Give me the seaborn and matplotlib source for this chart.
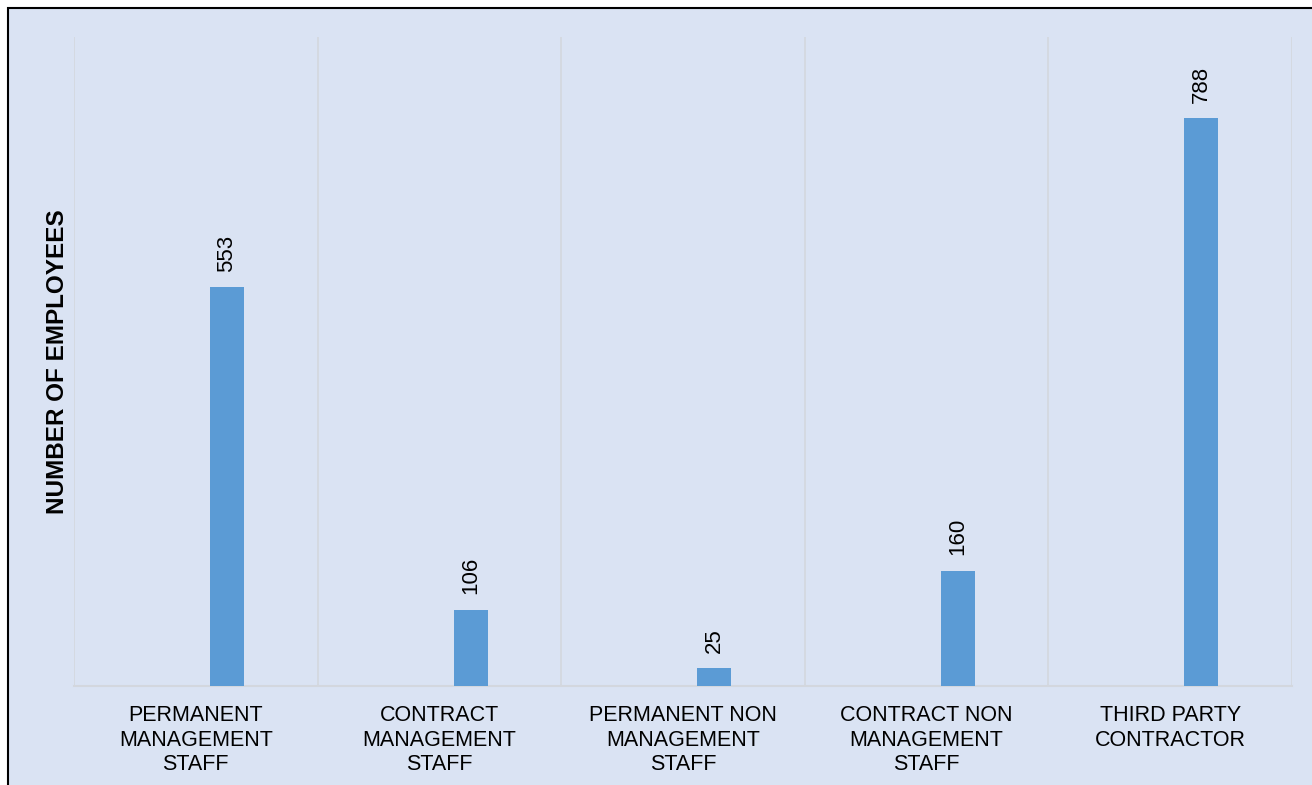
import matplotlib
matplotlib.use("Agg")
import matplotlib.pyplot as plt
import matplotlib.patches as mpatches
from matplotlib.ticker import FixedLocator
import seaborn as sns
import pandas as pd

categories = ["PERMANENT\nMANAGEMENT\nSTAFF", "CONTRACT\nMANAGEMENT\nSTAFF",
              "PERMANENT NON\nMANAGEMENT\nSTAFF", "CONTRACT NON\nMANAGEMENT\nSTAFF",
              "THIRD PARTY\nCONTRACTOR"]
values = [553, 106, 25, 160, 788]
y_label = "NUMBER OF EMPLOYEES"

df = pd.DataFrame({"category": categories, "value": values})

sns.set_theme(style="white")
plt.rcParams["font.family"] = ["Liberation Sans", "DejaVu Sans"]

BG = "#DAE3F3"
BAR = "#5B9BD5"
GRID = "#D3D7DE"

fig = plt.figure(figsize=(13.12, 7.85), dpi=100)
fig.patch.set_facecolor("white")
ax = fig.add_axes([74/1312, 1-686/785, (1292-74)/1312, (686-37)/785])

# background frame with black left/top border
frame = mpatches.Rectangle((8/1312, -0.1), 1.2, 1-8/785+0.1, transform=fig.transFigure,
                           facecolor=BG, edgecolor="black", linewidth=1.5, zorder=-10)
fig.patches.append(frame)
ax.set_facecolor("none")

sns.barplot(data=df, x="category", y="value", color=BAR, width=0.14,
            saturation=1, ax=ax, zorder=3)
offset = 0.128
for p in ax.patches:
    p.set_x(p.get_x() + offset)
    p.set_linewidth(0)

for p, v in zip(ax.patches, values):
    ax.text(p.get_x() + p.get_width()/2, v + 21, str(v), rotation=90,
            ha="center", va="bottom", fontsize=16, color="black")

ax.set_xlim(-0.5, len(categories) - 0.5)
ax.set_ylim(0, 900)
ax.set_yticks([])
ax.xaxis.set_minor_locator(FixedLocator([i - 0.5 for i in range(len(categories) + 1)]))
ax.grid(True, which="minor", axis="x", color=GRID, linewidth=1.2, zorder=0)
ax.grid(False, which="major")
ax.tick_params(axis="x", which="both", length=0, pad=14, labelsize=15.5, colors="black")
for lbl in ax.get_xticklabels():
    lbl.set_linespacing(1.2)

for s in ["top", "right", "left"]:
    ax.spines[s].set_visible(False)
ax.spines["bottom"].set_color(GRID)
ax.spines["bottom"].set_linewidth(1.5)

ax.set_xlabel("")
ax.set_ylabel(y_label, fontsize=17.5, fontweight="bold", color="black")
ax.yaxis.set_label_coords(-0.004, 0.5)

fig.savefig("out.png", dpi=100)
